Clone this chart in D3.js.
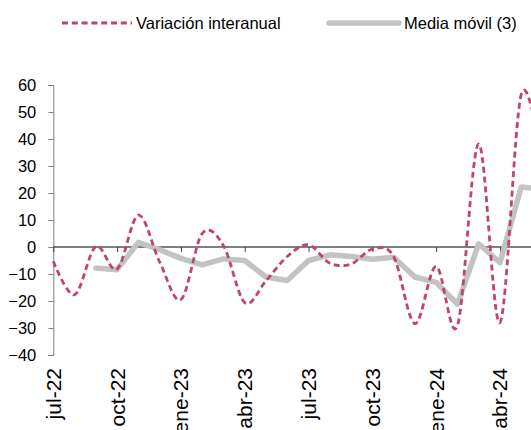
<!DOCTYPE html>
<html>
<head>
  <meta charset="utf-8">
  <script src="https://cdn.jsdelivr.net/npm/d3@7/dist/d3.min.js"></script>
  <style>
    body { margin: 0; background: #fff; }
    text { font-family: "Liberation Sans", Arial, sans-serif; fill: #000; }
  </style>
</head>
<body>
  <svg id="chart" width="531" height="430"></svg>

  <script>
    // months, one per point
    var months = ['jul-22', 'ago-22', 'sep-22', 'oct-22', 'nov-22', 'dic-22',
      'ene-23', 'feb-23', 'mar-23', 'abr-23', 'may-23', 'jun-23',
      'jul-23', 'ago-23', 'sep-23', 'oct-23', 'nov-23', 'dic-23',
      'ene-24', 'feb-24', 'mar-24', 'abr-24', 'may-24', 'jun-24'];

    // Variación interanual
    var variacion = [-5.3, -17.7, 0.2, -8.2, 11.8, -5.5,
      -19.5, 5.0, 0.5, -20.6, -12.5, -3.5,
      0.8, -6.0, -6.3, -0.8, -3.5, -28.4,
      -7.2, -29.1, 38.2, -28.0, 56.5, 30.0];

    // Media móvil (3)
    var media = [null, null, -7.8, -8.4, 1.7, -1.0,
      -4.2, -6.6, -4.4, -5.0, -11.1, -12.4,
      -5.0, -2.9, -3.5, -4.5, -3.8, -11.1,
      -13.1, -21.1, 1.2, -5.8, 22.2, 21.5];

    var yTicks = [-40, -30, -20, -10, 0, 10, 20, 30, 40, 50, 60];
    var tickMonths = ['jul-22', 'oct-22', 'ene-23', 'abr-23', 'jul-23', 'oct-23', 'ene-24', 'abr-24'];

    var svg = d3.select('#chart');
    var red = '#c0456b', grey = '#c3c3c3';

    var x = d3.scalePoint().domain(months).range([53.3, 53.3 + 21.27 * 23]);
    var y = d3.scaleLinear().domain([-40, 60]).range([355, 85]);

    // y axis
    var yAxis = svg.append('g')
      .attr('transform', 'translate(53.3,0)')
      .call(d3.axisLeft(y).tickValues(yTicks).tickSize(5).tickPadding(12).tickFormat(d3.format('d')));
    yAxis.select('.domain').attr('stroke', '#808080');
    yAxis.selectAll('.tick line').attr('stroke', '#808080');
    yAxis.selectAll('text').style('font-size', '16.5px').attr('fill', '#000');

    // x axis on the zero line
    var xAxis = svg.append('g')
      .attr('transform', 'translate(0,' + y(0) + ')')
      .call(d3.axisBottom(x).tickValues(tickMonths).tickSize(5).tickFormat(''));
    xAxis.select('.domain').attr('stroke', '#000').attr('d', 'M53.3,0H531');
    xAxis.selectAll('.tick line').attr('stroke', '#404040');

    // rotated month labels at the bottom (the reference crops the longer ones too)
    svg.append('g').selectAll('text')
      .data(tickMonths)
      .enter()
      .append('text')
      .attr('transform', d => 'translate(' + (x(d) + 7.5) + ',368) rotate(-90)')
      .attr('text-anchor', 'end')
      .style('font-size', '21px')
      .text(d => d);

    // series
    var lineVar = d3.line()
      .x((d, i) => x(months[i]))
      .y(d => y(d))
      .curve(d3.curveCatmullRom.alpha(0));

    var lineMedia = d3.line()
      .defined(d => d != null)
      .x((d, i) => x(months[i]))
      .y(d => y(d));

    svg.append('path')
      .datum(media)
      .attr('fill', 'none')
      .attr('stroke', grey)
      .attr('stroke-width', 5.5)
      .attr('stroke-linecap', 'round')
      .attr('stroke-linejoin', 'round')
      .attr('d', lineMedia);

    svg.append('path')
      .datum(variacion)
      .attr('fill', 'none')
      .attr('stroke', red)
      .attr('stroke-width', 2.8)
      .attr('stroke-dasharray', '6,3.8')
      .attr('d', lineVar);

    // legend
    var legend = svg.append('g');
    legend.append('line')
      .attr('x1', 62).attr('x2', 132).attr('y1', 23).attr('y2', 23)
      .attr('stroke', red).attr('stroke-width', 2.8).attr('stroke-dasharray', '6,3.8');
    legend.append('text')
      .attr('x', 136).attr('y', 29)
      .style('font-size', '16.5px')
      .text('Variación interanual');
    legend.append('line')
      .attr('x1', 329).attr('x2', 399).attr('y1', 23).attr('y2', 23)
      .attr('stroke', grey).attr('stroke-width', 5.5).attr('stroke-linecap', 'round');
    legend.append('text')
      .attr('x', 404).attr('y', 29)
      .style('font-size', '16.5px')
      .text('Media móvil (3)');
  </script>
</body>
</html>
